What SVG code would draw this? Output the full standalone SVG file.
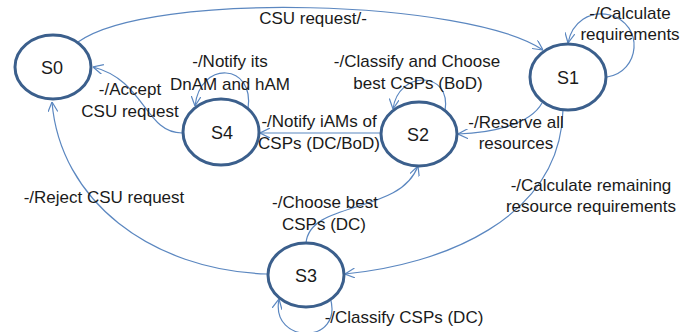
<svg xmlns="http://www.w3.org/2000/svg" width="696" height="332" viewBox="0 0 696 332">
<style>
.node{fill:#ffffff;stroke:#3b5f8c;stroke-width:3}
.nl{font-family:"Liberation Sans",Arial,sans-serif;font-size:18px;fill:#1a1a1a;text-anchor:middle}
.lb{font-family:"Liberation Sans",Arial,sans-serif;font-size:17px;fill:#1a1a1a;text-anchor:middle}
.c{fill:none;stroke:#5b87c0;stroke-width:1.2;marker-end:url(#arr)}
</style>
<defs>
<marker id="arr" viewBox="0 0 10 10" refX="10" refY="5" markerWidth="10" markerHeight="10" markerUnits="userSpaceOnUse" orient="auto">
<path d="M0,0 L10,5 L0,10" fill="none" stroke="#5b87c0" stroke-width="1.2"/>
</marker>
</defs>
<rect width="696" height="332" fill="#ffffff"/>
<g id="connectors">
<path class="c" d="M78,42 C150,-10 470,0 543,50"/>
<path class="c" d="M607,77 C640,72 645,25 610,15 C590,10 572,22 568,43"/>
<path class="c" d="M542,103 C530,125 490,133 458,134"/>
<path class="c" d="M445,111 C452,70 398,70 393,109"/>
<path class="c" d="M381,133 L260,133"/>
<path class="c" d="M248,109 C255,63 200,60 195,106"/>
<path class="c" d="M182,133 C145,133 145,80 93,67"/>
<path class="c" d="M267,274 C150,270 60,200 52,102"/>
<path class="c" d="M563,110 C560,220 440,265 345,274"/>
<path class="c" d="M306,243 C310,200 400,215 418,166"/>
<path class="c" d="M330,297 C345,345 270,345 279,299"/>
</g>
<g id="labels">
<text class="lb" x="313" y="24">CSU request/-</text>
<text class="lb" x="630" y="19">-/Calculate</text>
<text class="lb" x="630" y="40">requirements</text>
<text class="lb" x="417" y="67">-/Classify and Choose</text>
<text class="lb" x="418" y="89">best CSPs (BoD)</text>
<text class="lb" x="230" y="67">-/Notify its</text>
<text class="lb" x="230" y="90">DnAM and hAM</text>
<text class="lb" x="130" y="95">-/Accept</text>
<text class="lb" x="130" y="117">CSU request</text>
<text class="lb" x="319" y="127">-/Notify iAMs of</text>
<text class="lb" x="319" y="149">CSPs (DC/BoD)</text>
<text class="lb" x="516" y="128">-/Reserve all</text>
<text class="lb" x="516" y="149">resources</text>
<text class="lb" x="104" y="203">-/Reject CSU request</text>
<text class="lb" x="325" y="208">-/Choose best</text>
<text class="lb" x="324" y="230">CSPs (DC)</text>
<text class="lb" x="591" y="191">-/Calculate remaining</text>
<text class="lb" x="591" y="212">resource requirements</text>
<text class="lb" x="404" y="323">-/Classify CSPs (DC)</text>
</g>
<g id="S0"><ellipse class="node" cx="53" cy="67" rx="38" ry="32"/><text class="nl" x="52" y="74">S0</text></g>
<g id="S1"><ellipse class="node" cx="568" cy="77" rx="38" ry="33"/><text class="nl" x="568" y="84">S1</text></g>
<g id="S2"><ellipse class="node" cx="419" cy="134" rx="38" ry="32"/><text class="nl" x="418" y="141">S2</text></g>
<g id="S3"><ellipse class="node" cx="306" cy="275" rx="38" ry="32"/><text class="nl" x="306" y="282">S3</text></g>
<g id="S4"><ellipse class="node" cx="221" cy="132" rx="38" ry="33"/><text class="nl" x="222" y="139">S4</text></g>
</svg>
